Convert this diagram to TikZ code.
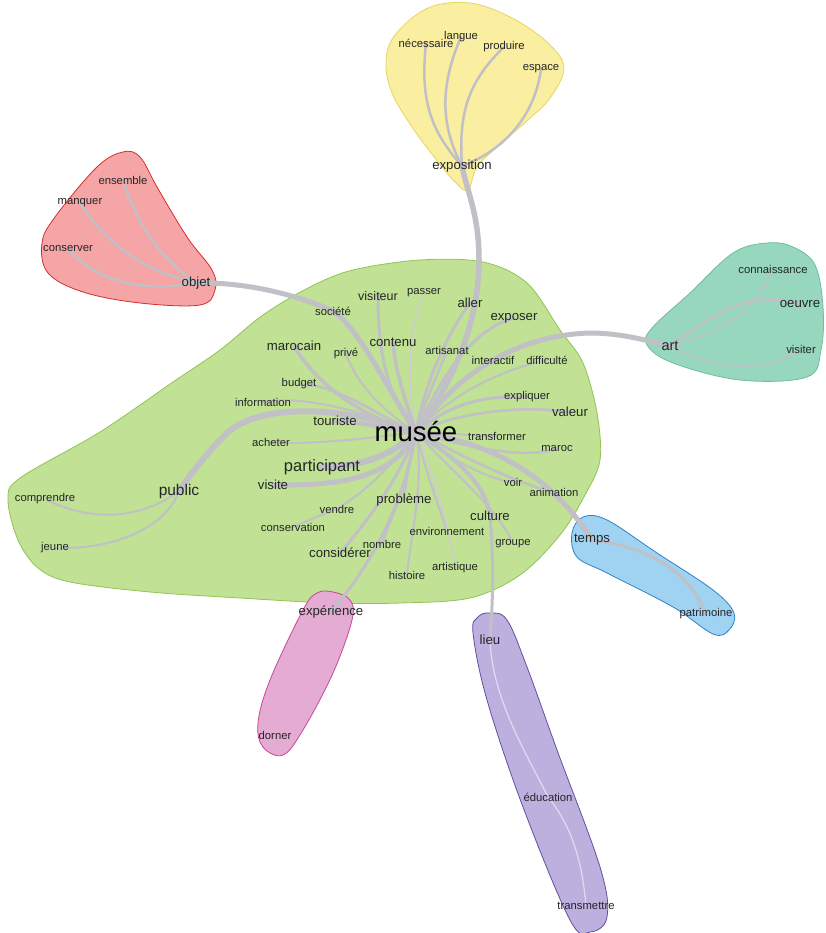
\documentclass[tikz,border=0pt]{standalone}
\usepackage{fontspec}
\setmainfont{Liberation Sans}
\usepackage{xcolor}
\usepackage{tikz}
\definecolor{musgreen}{RGB}{193,225,148}
\definecolor{musgreenline}{RGB}{145,195,85}
\definecolor{expoyellow}{RGB}{250,238,160}
\definecolor{expoyellowline}{RGB}{232,212,100}
\definecolor{objred}{RGB}{245,165,165}
\definecolor{objredline}{RGB}{215,45,45}
\definecolor{artteal}{RGB}{150,215,190}
\definecolor{arttealline}{RGB}{110,190,160}
\definecolor{tempsblue}{RGB}{160,210,242}
\definecolor{tempsblueline}{RGB}{45,130,200}
\definecolor{exppink}{RGB}{228,172,210}
\definecolor{exppinkline}{RGB}{200,70,150}
\definecolor{lieupurple}{RGB}{190,176,222}
\definecolor{lieupurpleline}{RGB}{95,80,160}
\definecolor{linkgray}{RGB}{192,192,198}
\definecolor{wordgray}{RGB}{35,38,40}
\pgfdeclarelayer{blobs}
\pgfdeclarelayer{links}
\pgfsetlayers{blobs,links,main}

\begin{document}
\begin{tikzpicture}[x=1pt, y=-1pt,
    word/.style={font=\fontsize{11.3}{13}\selectfont, text=wordgray, inner sep=1pt},
    mword/.style={font=\fontsize{13.2}{15}\selectfont, text=wordgray, inner sep=1pt},
    bword/.style={font=\fontsize{15.5}{17}\selectfont, text=wordgray, inner sep=1pt},
    link/.style={draw=linkgray, line width=2pt, line cap=round},
    biglink/.style={link, line width=5.5pt},
    faintlink/.style={draw=white!70!linkgray, line width=1.5pt, line cap=round},
    blob/.style={line width=0.8pt}]

    \useasboundingbox (0,0) rectangle (825,933);

    % Centre word
    \node[font=\fontsize{27.5}{30}\selectfont, text=black, inner sep=1pt] (musee) at (416,432) {musée};

    % Green cluster
    \node[word]  (societe)     at (333,311) {société};
    \node[word, font=\fontsize{12.5}{14}\selectfont] (visiteur) at (378,296) {visiteur};
    \node[word]  (passer)      at (424,293) {passer};
    \node[mword] (aller)       at (470,303) {aller};
    \node[mword] (exposer)     at (514,318) {exposer};
    \node[mword] (marocain)    at (294,346) {marocain};
    \node[word]  (prive)       at (346,354) {privé};
    \node[mword] (contenu)     at (393,342) {contenu};
    \node[word]  (artisanat)   at (447,350) {artisanat};
    \node[word]  (interactif)  at (493,360) {interactif};
    \node[word]  (difficulte)  at (547,360) {difficulté};
    \node[word]  (budget)      at (299,384) {budget};
    \node[word]  (information) at (263,402) {information};
    \node[mword] (touriste)    at (335,421) {touriste};
    \node[word]  (expliquer)   at (527,397) {expliquer};
    \node[mword] (valeur)      at (570,412) {valeur};
    \node[word]  (transformer) at (497,436) {transformer};
    \node[word]  (maroc)       at (557,449) {maroc};
    \node[word]  (acheter)     at (271,442) {acheter};
    \node[bword, font=\fontsize{16.5}{18}\selectfont] (participant) at (322,467) {participant};
    \node[bword] (public)      at (179,491) {public};
    \node[word]  (comprendre)  at (45,499) {comprendre};
    \node[word]  (jeune)       at (55,548) {jeune};
    \node[mword] (visite)      at (273,485) {visite};
    \node[word]  (voir)        at (513,482) {voir};
    \node[word]  (animation)   at (554,492) {animation};
    \node[mword] (probleme)    at (404,500) {problème};
    \node[word]  (vendre)      at (337,509) {vendre};
    \node[word]  (conservation) at (293,527) {conservation};
    \node[mword] (culture)     at (490,516) {culture};
    \node[word]  (environnement) at (447,531) {environnement};
    \node[word]  (groupe)      at (513,544) {groupe};
    \node[mword] (considerer)  at (340,553) {considérer};
    \node[word]  (nombre)      at (382,544) {nombre};
    \node[word]  (histoire)    at (407,575) {histoire};
    \node[word]  (artistique)  at (455,568) {artistique};

    % Yellow cluster
    \node[mword] (exposition)  at (462,166) {exposition};
    \node[word]  (necessaire)  at (426,43) {nécessaire};
    \node[word]  (langue)      at (461,37) {langue};
    \node[word]  (produire)    at (504,47) {produire};
    \node[word]  (espace)      at (541,69) {espace};

    % Red cluster
    \node[mword] (objet)       at (196,283) {objet};
    \node[word]  (ensemble)    at (123,180) {ensemble};
    \node[word]  (manquer)     at (80,203) {manquer};
    \node[word]  (conserver)   at (68,249) {conserver};

    % Teal cluster
    \node[bword, font=\fontsize{14.5}{16}\selectfont] (art) at (670,346) {art};
    \node[word]  (connaissance) at (773,269) {connaissance};
    \node[mword] (oeuvre)      at (800,304) {oeuvre};
    \node[word]  (visiter)     at (801,349) {visiter};

    % Blue cluster
    \node[mword] (temps)       at (592,540) {temps};
    \node[word]  (patrimoine)  at (706,614) {patrimoine};

    % Pink cluster
    \node[mword] (experience)  at (331,612) {expérience};
    \node[word]  (dorner)      at (275,735) {dorner};

    % Purple cluster
    \node[mword] (lieu)        at (490,640) {lieu};
    \node[word]  (education)   at (548,797) {éducation};
    \node[word]  (transmettre) at (586,906) {transmettre};

    % Halos
    \begin{pgfonlayer}{blobs}
    \filldraw[blob, fill=musgreen, draw=musgreenline] plot[smooth cycle, tension=0.55] coordinates {
        (8,500) (20,478) (100,432) (173,382) (220,350) (263,315) (310,287) (353,270)
        (420,260) (483,262) (527,283) (560,330) (583,363) (597,413) (600,460) (585,495)
        (560,535) (520,575) (470,598) (400,603) (330,603) (240,598) (150,592) (70,582)
        (38,568) (18,540)};
    \filldraw[blob, fill=expoyellow, draw=expoyellowline] plot[smooth cycle, tension=0.6] coordinates {
        (395,35) (428,8) (470,3) (512,18) (548,43) (564,68) (550,98) (528,120)
        (497,147) (477,167) (468,190) (455,182) (435,158) (412,127) (392,93) (386,62)};
    \filldraw[blob, fill=objred, draw=objredline] plot[smooth cycle, tension=0.6] coordinates {
        (123,152) (140,157) (157,187) (187,237) (212,270) (215,290) (200,305) (140,303)
        (83,292) (48,273) (42,243) (55,217) (97,167)};
    \filldraw[blob, fill=artteal, draw=arttealline] plot[smooth cycle, tension=0.6] coordinates {
        (767,243) (793,247) (815,265) (823,307) (821,350) (807,377) (740,380) (673,363)
        (647,345) (652,328) (690,293) (733,253)};
    \filldraw[blob, fill=tempsblue, draw=tempsblueline] plot[smooth cycle, tension=0.6] coordinates {
        (583,517) (607,520) (657,553) (713,590) (734,613) (729,630) (713,634) (673,607)
        (607,573) (577,557) (572,533)};
    \filldraw[blob, fill=exppink, draw=exppinkline] plot[smooth cycle, tension=0.6] coordinates {
        (333,592) (350,600) (352,620) (333,673) (303,730) (283,755) (263,747) (258,723)
        (270,680) (303,610) (317,593)};
    \filldraw[blob, fill=lieupurple, draw=lieupurpleline] plot[smooth cycle, tension=0.6] coordinates {
        (490,613) (507,620) (527,667) (557,750) (600,867) (607,917) (590,932) (570,920)
        (523,807) (487,700) (473,633) (478,617)};
    \end{pgfonlayer}

    % Links
    \begin{pgfonlayer}{links}
    % main branches
    \draw[biglink] (musee.center) .. controls (455,380) and (479,320) .. (479,260)
        .. controls (479,215) and (468,195) .. (exposition.center);
    \draw[biglink, line width=5pt] (musee.center) .. controls (385,385) and (360,330) .. (societe.center);
    \draw[biglink, line width=5pt] (societe.center) .. controls (290,292) and (240,282) .. (objet.center);
    \draw[biglink, line width=5pt] (musee.center) .. controls (460,370) and (520,335) .. (590,333)
        .. controls (620,333) and (645,340) .. (art.center);
    \draw[biglink, line width=5pt] (musee.center) .. controls (475,440) and (545,465) .. (temps.center);
    \draw[biglink, line width=6pt] (musee.center) .. controls (350,408) and (260,400) .. (225,435)
        .. controls (205,455) and (190,475) .. (public.center);
    \draw[biglink, line width=6pt] (musee.center) .. controls (395,452) and (370,466) .. (participant.center);
    \draw[biglink, line width=5pt] (musee.center) .. controls (395,475) and (350,486) .. (visite.center);
    \draw[link, line width=4pt] (musee.center) .. controls (450,455) and (485,480) .. (culture.center);
    \draw[link, line width=3pt] (culture.center) .. controls (494,560) and (493,600) .. (lieu.center);
    \draw[link, line width=3pt] (musee.center) .. controls (405,500) and (375,560) .. (experience.center);

    % green branches
    \draw[link, line width=3pt] (musee.center) .. controls (390,400) and (378,360) .. (visiteur.center);
    \draw[faintlink, draw=linkgray!80] (musee.center) .. controls (405,380) and (410,320) .. (passer.center);
    \draw[link, line width=3pt] (musee.center) .. controls (425,380) and (450,330) .. (aller.center);
    \draw[link, line width=3pt] (musee.center) .. controls (440,380) and (470,330) .. (exposer.center);
    \draw[link, line width=3.5pt] (musee.center) .. controls (370,420) and (320,390) .. (marocain.center);
    \draw[link] (musee.center) .. controls (380,410) and (355,380) .. (prive.center);
    \draw[link, line width=3.5pt] (musee.center) .. controls (405,400) and (395,370) .. (contenu.center);
    \draw[link, line width=2.5pt] (musee.center) .. controls (425,400) and (440,370) .. (artisanat.center);
    \draw[link] (musee.center) .. controls (440,400) and (470,370) .. (interactif.center);
    \draw[link] (musee.center) .. controls (450,395) and (500,370) .. (difficulte.center);
    \draw[link, line width=2.5pt] (musee.center) .. controls (375,415) and (340,385) .. (budget.center);
    \draw[link] (musee.center) .. controls (360,410) and (300,395) .. (information.center);
    \draw[link, line width=4.5pt] (musee.center) .. controls (385,428) and (360,422) .. (touriste.center);
    \draw[link, line width=3pt] (musee.center) .. controls (450,405) and (480,395) .. (expliquer.center);
    \draw[link, line width=2.5pt] (musee.center) .. controls (460,412) and (520,405) .. (valeur.center);
    \draw[link] (musee.center) .. controls (445,432) and (470,436) .. (transformer.center);
    \draw[link, line width=2.5pt] (musee.center) .. controls (460,445) and (520,460) .. (maroc.center);
    \draw[link] (musee.center) .. controls (360,440) and (300,445) .. (acheter.center);
    \draw[link] (musee.center) .. controls (450,460) and (490,480) .. (voir.center);
    \draw[link, line width=2.5pt] (musee.center) .. controls (460,455) and (520,485) .. (animation.center);
    \draw[link, line width=3pt] (musee.center) .. controls (410,460) and (405,480) .. (probleme.center);
    \draw[link] (musee.center) .. controls (390,470) and (360,495) .. (vendre.center);
    \draw[link] (vendre.center) .. controls (320,515) and (305,522) .. (conservation.center);
    \draw[link] (musee.center) .. controls (425,470) and (440,510) .. (environnement.center);
    \draw[link] (musee.center) .. controls (450,470) and (500,510) .. (groupe.center);
    \draw[link, line width=3pt] (musee.center) .. controls (400,480) and (360,530) .. (considerer.center);
    \draw[link] (musee.center) .. controls (410,480) and (390,520) .. (nombre.center);
    \draw[link] (musee.center) .. controls (425,480) and (410,540) .. (histoire.center);
    \draw[faintlink, draw=linkgray!80] (musee.center) .. controls (435,480) and (450,530) .. (artistique.center);
    \draw[link] (public.center) .. controls (140,520) and (90,522) .. (comprendre.center);
    \draw[link] (public.center) .. controls (165,530) and (110,550) .. (jeune.center);

    % yellow branches
    \draw[link, line width=2.5pt] (exposition.center) .. controls (430,130) and (420,100) .. (necessaire.center);
    \draw[link, line width=2.5pt] (exposition.center) .. controls (440,125) and (440,85) .. (langue.center);
    \draw[link, line width=2.5pt] (exposition.center) .. controls (458,110) and (470,80) .. (produire.center);
    \draw[link, line width=2.5pt] (exposition.center) .. controls (505,150) and (535,115) .. (espace.center);

    % red branches
    \draw[link, line width=2.5pt] (objet.center) .. controls (170,265) and (140,235) .. (ensemble.center);
    \draw[link, line width=2.5pt] (objet.center) .. controls (150,272) and (110,250) .. (manquer.center);
    \draw[link, line width=2.5pt] (objet.center) .. controls (150,292) and (100,285) .. (conserver.center);

    % teal branches
    \draw[link, line width=2.5pt] (art.center) .. controls (720,310) and (750,290) .. (oeuvre.center);
    \draw[link, line width=1.5pt] (art.center) .. controls (730,330) and (755,310) .. (connaissance.center);
    \draw[link, line width=1.5pt] (art.center) .. controls (725,375) and (770,370) .. (visiter.center);

    % blue branch
    \draw[link, line width=3pt] (temps.center) .. controls (655,548) and (690,575) .. (patrimoine.center);

    % purple branches
    \draw[faintlink, draw=white!55!lieupurple, line width=1.2pt] (lieu.center) .. controls (492,700) and (530,760) .. (education.center);
    \draw[faintlink, draw=white!55!lieupurple, line width=1.2pt] (education.center) .. controls (575,830) and (583,870) .. (transmettre.center);
    \end{pgfonlayer}
\end{tikzpicture}
\end{document}
